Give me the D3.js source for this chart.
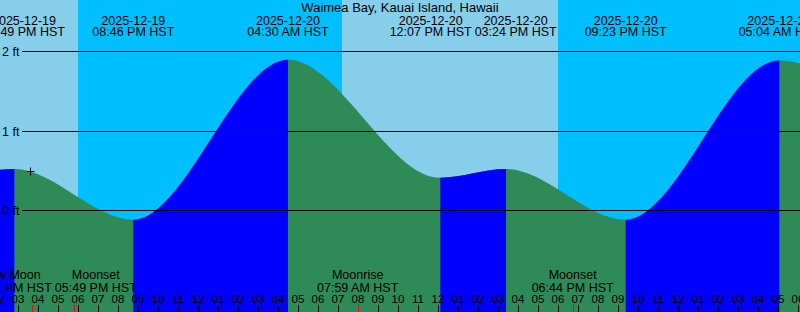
<!DOCTYPE html>
<html>
<head>
<meta charset="utf-8">
<script src="https://cdn.jsdelivr.net/npm/d3@7"></script>
<style>
  body { margin: 0; background: #fff; }
  svg { display: block; }
  text { font-family: "Liberation Sans", Arial, sans-serif; fill: #000; }
</style>
</head>
<body>
<svg id="chart" width="800" height="312"></svg>
<script>
var title = "Waimea Bay, Kauai Island, Hawaii";

// tide extremes (HST), incl. one on each side outside the view
var tideTimes = ["2025-12-19 11:20", "2025-12-19 14:49", "2025-12-19 20:46", "2025-12-20 04:30",
                 "2025-12-20 12:07", "2025-12-20 15:24", "2025-12-20 21:23", "2025-12-21 05:04",
                 "2025-12-21 12:40"];
var tideHeights = [0.36, 0.52, -0.12, 1.90, 0.41, 0.52, -0.12, 1.89, 0.40];
var tideTypes = ["L", "H", "L", "H", "L", "H", "L", "H", "L"];

var moonTimes = ["2025-12-19 15:43", "2025-12-19 17:49", "2025-12-20 07:59", "2025-12-20 18:44"];
var moonNames = ["New Moon", "Moonset", "Moonrise", "Moonset"];

var sunTimes = ["2025-12-19 18:00", "2025-12-20 07:12", "2025-12-20 18:00"];
var sunKinds = ["set", "rise", "set"];

var levels = [0, 1, 2];
var nowTime = "2025-12-19 15:36", nowHeight = 0.5;
var viewStart = "2025-12-19 14:06", viewEnd = "2025-12-21 06:06";

var W = 800, H = 312;
var dayColor = "#87ceeb", nightColor = "#00bfff";
var riseColor = "#0000ff", fallColor = "#2e8b57";

var parse = d3.timeParse("%Y-%m-%d %H:%M");
var fmtDate = d3.timeFormat("%Y-%m-%d");
var fmtTime = d3.timeFormat("%I:%M %p HST");
var fmtHour = d3.timeFormat("%I");

var t0 = parse(viewStart), t1 = parse(viewEnd);
var x = d3.scaleTime().domain([t0, t1]).range([0, W]);
var y = d3.scaleLinear().domain([0, 2]).range([210.3, 51.7]);

var tides = tideTimes.map(function (s, i) {
  return { t: parse(s), h: tideHeights[i], type: tideTypes[i] };
});

var svg = d3.select("#chart");

// day / night background
var bounds = [t0].concat(sunTimes.map(parse)).concat([t1]);
var bg = [];
for (var i = 0; i < bounds.length - 1; i++) {
  var night = i > 0 ? sunKinds[i - 1] == "set" : sunKinds[0] == "rise";
  bg.push({ a: bounds[i], b: bounds[i + 1], night: night });
}
svg.selectAll("rect.bg").data(bg).enter().append("rect")
  .attr("class", "bg")
  .attr("x", function (d) { return x(d.a); })
  .attr("width", function (d) { return x(d.b) - x(d.a); })
  .attr("y", 0).attr("height", H)
  .attr("fill", function (d) { return d.night ? nightColor : dayColor; });

// tide curve: falling green, rising blue (clipped)
var area = d3.area()
  .x(function (d) { return x(d.t); })
  .y0(H)
  .y1(function (d) { return y(d.h); })
  .curve(d3.curveMonotoneX);

var rising = [];
for (var i = 0; i < tides.length - 1; i++) {
  if (tides[i].type == "L") rising.push({ a: tides[i].t, b: tides[i + 1].t });
}
var clip = svg.append("defs").append("clipPath").attr("id", "riseClip");
clip.selectAll("rect").data(rising).enter().append("rect")
  .attr("x", function (d) { return x(d.a); })
  .attr("width", function (d) { return x(d.b) - x(d.a); })
  .attr("y", 0).attr("height", H);

svg.append("path").datum(tides).attr("d", area).attr("fill", fallColor);
svg.append("path").datum(tides).attr("d", area).attr("fill", riseColor)
  .attr("clip-path", "url(#riseClip)");

// level lines
var lv = svg.selectAll("g.level").data(levels).enter().append("g").attr("class", "level");
lv.append("line")
  .attr("x1", 22).attr("x2", W)
  .attr("y1", function (d) { return y(d); }).attr("y2", function (d) { return y(d); })
  .attr("stroke", "#000").attr("shape-rendering", "crispEdges");
lv.append("text")
  .attr("x", 2).attr("y", function (d) { return y(d) + 4.5; })
  .style("font-size", "12.5px")
  .text(function (d) { return d + " ft"; });

// push overlapping labels apart (and keep them from running too far off the left edge)
function spread(items, minLeft) {
  items.forEach(function (d) { d.x = Math.max(d.x, minLeft + d.w / 2); });
  for (var i = 1; i < items.length; i++) {
    var a = items[i - 1], b = items[i];
    var need = (a.w + b.w) / 2 + 3, d = b.x - a.x;
    if (d < need) { a.x -= (need - d) / 2; b.x += (need - d) / 2; }
  }
}

// two-line labels, then spread them
function labels(cls, data, y1, y2, minLeft) {
  var g = svg.selectAll("g." + cls).data(data).enter().append("g").attr("class", cls);
  g.append("text").attr("class", "l1").attr("y", y1).attr("text-anchor", "middle")
    .style("font-size", "12.5px").text(function (d) { return d.l1; });
  g.append("text").attr("class", "l2").attr("y", y2).attr("text-anchor", "middle")
    .style("font-size", "12.5px").text(function (d) { return d.l2; });
  g.each(function (d) {
    var s = d3.select(this);
    d.w = Math.max(s.select(".l1").node().getComputedTextLength(),
                   s.select(".l2").node().getComputedTextLength());
  });
  spread(data, minLeft);
  g.selectAll("text").attr("x", function () { return d3.select(this.parentNode).datum().x; });
}

// title
svg.append("text").attr("x", W / 2).attr("y", 11.5)
  .attr("text-anchor", "middle").style("font-size", "13px").text(title);

// tide event labels at top
var shown = tides.filter(function (d) { return d.t >= t0 && d.t <= t1; })
  .map(function (d) { return { t: d.t, x: x(d.t), l1: fmtDate(d.t), l2: fmtTime(d.t) }; });
labels("ev", shown, 24.5, 36, -17);

// moon labels at bottom
var moons = moonTimes.map(function (s, i) {
  var t = parse(s);
  return { t: t, x: x(t), l1: moonNames[i], l2: fmtTime(t) };
});
labels("moon", moons, 279, 292, -100);

// hour ticks and labels
var hours = d3.timeHour.range(d3.timeHour.floor(t0), t1);
svg.selectAll("text.hr").data(hours).enter().append("text")
  .attr("class", "hr")
  .attr("x", function (d) { return x(d); }).attr("y", 302.5)
  .attr("text-anchor", "middle")
  .style("font-family", "'Liberation Sans Narrow', 'Liberation Sans', sans-serif")
  .style("font-size", "11.5px")
  .text(function (d) { return fmtHour(d); });
svg.selectAll("line.hr").data(hours).enter().append("line")
  .attr("class", "hr")
  .attr("x1", function (d) { return Math.round(x(d)) + 0.5; })
  .attr("x2", function (d) { return Math.round(x(d)) + 0.5; })
  .attr("y1", 305).attr("y2", H)
  .attr("stroke", "#000")
  .attr("stroke-width", function (d) { return d.getHours() == 0 ? 3 : 1; });
svg.selectAll("line.mt").data(moons).enter().append("line")
  .attr("class", "mt")
  .attr("x1", function (d) { return Math.round(x(d.t)) + 0.5; })
  .attr("x2", function (d) { return Math.round(x(d.t)) + 0.5; })
  .attr("y1", 305).attr("y2", H)
  .attr("stroke", "#ff0000");

// current time marker
var nx = Math.round(x(parse(nowTime))) + 0.5, ny = Math.round(y(nowHeight)) + 0.5;
svg.append("path")
  .attr("d", "M" + (nx - 4) + "," + ny + "H" + (nx + 4) + "M" + nx + "," + (ny - 4) + "V" + (ny + 4))
  .attr("stroke", "#000").attr("fill", "none");
</script>
</body>
</html>
